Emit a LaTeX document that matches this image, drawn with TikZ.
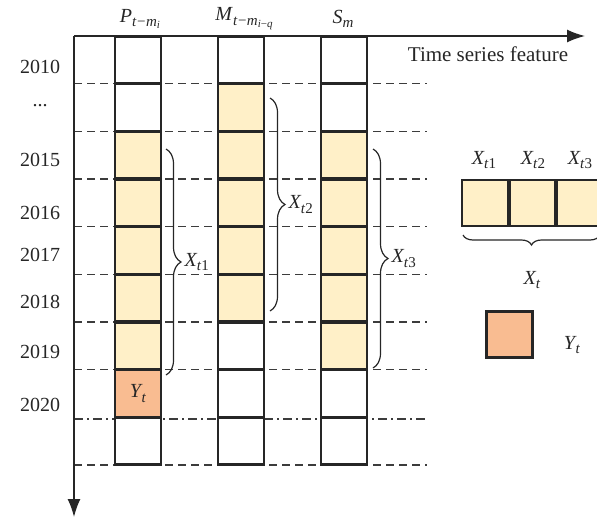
\documentclass[tikz,border=0pt]{standalone}
\usepackage{fontspec}
\setmainfont{Liberation Serif}
\usetikzlibrary{decorations.pathreplacing,arrows.meta}
\definecolor{yel}{HTML}{FFF0C8}
\definecolor{ora}{HTML}{F9BC91}
\definecolor{ln}{HTML}{262626}
\newcommand\subs[1]{\raisebox{-0.45ex}{\fontsize{15}{15}\selectfont #1}}
\newcommand\subss[1]{\raisebox{-0.4ex}{\fontsize{11}{11}\selectfont #1}}
\newcommand\vx[1]{\textit{X}\kern-0.5pt\subs{\textit{t}#1}}
\begin{document}
\begin{tikzpicture}[x=1pt,y=-1pt,
  every node/.style={font=\fontsize{20}{23}\selectfont, text=ln},
  cell/.style={draw=ln, line width=2.4pt, minimum width=46.5pt, minimum height=46.8pt, inner sep=0pt, fill=white},
  grid/.style={draw=ln!90, line width=1.5pt, dash pattern=on 8pt off 5pt},
  gridd/.style={draw=ln!90, line width=1.5pt, dash pattern=on 9pt off 4pt on 2pt off 4pt},
  br/.style={draw=ln, line width=1.2pt, decorate, decoration={brace, amplitude=15pt}},
  axis/.style={draw=ln, line width=1.5pt, -{Latex[length=18pt,width=13pt]}},
  lab/.style={inner sep=1pt}]
\useasboundingbox (0,0) rectangle (597,517);
% grid lines
\foreach \k in {1,...,7,9}{
  \coordinate (gl\k) at (74,{36+47.667*\k});
  \coordinate (gr\k) at (427,{36+47.667*\k});
  \draw[grid] (gl\k) -- (gr\k);
}
\coordinate (gl8) at (74,{36+47.667*8+1.5});
\coordinate (gr8) at (427,{36+47.667*8+1.5});
\draw[gridd] (gl8) -- (gr8);
% axes
\coordinate (o) at (74,36);
\coordinate (xe) at (585,36);
\coordinate (ye) at (74,517);
\draw[axis] (o) -- (xe);
\draw[axis] (o) -- (ye);
% columns
\foreach \c/\x in {p/138,m/241,s/344}{
  \foreach \r in {1,...,9}{
    \node[cell] (\c\r) at (\x,{36+47.667*(\r-0.5)}) {};
  }
}
\foreach \r in {3,...,7}{\node[cell,fill=yel] (p\r) at (138,{36+47.667*(\r-0.5)}) {};}
\node[cell,fill=ora] (p8) at (138,{36+47.667*7.5}) {\textit{Y}\kern-1pt\subs{\textit{t}}};
\foreach \r in {2,...,6}{\node[cell,fill=yel] (m\r) at (241,{36+47.667*(\r-0.5)}) {};}
\foreach \r in {3,...,7}{\node[cell,fill=yel] (s\r) at (344,{36+47.667*(\r-0.5)}) {};}
% headers
\node[lab] (hp) at (140,19) {\textit{P}\subs{\textit{t}\kern0.5pt−\kern0.5pt\textit{m}\subss{\textit{i}}}};
\node[lab] (hm) at (244,19) {\textit{M}\subs{\textit{t}\kern0.5pt−\kern0.5pt\textit{m}\subss{\textit{i}−\textit{q}}}};
\node[lab] (hs) at (343,19) {\textit{S}\subs{\textit{m}}};
\node[lab,font=\fontsize{21}{24}\selectfont] (tsf) at (488,54) {Time series feature};
% years
\foreach \t/\y in {2010/67,{...}/106,2015/160,2016/213,2017/255,2018/302,2019/352,2020/405}{
  \node[lab] at (40,\y) {\t};
}
% braces
\coordinate (b1a) at (166,149);
\coordinate (b1b) at (166,375);
\draw[br] (b1a) -- (b1b) node[midway, right=17pt, lab] (x1) {\vx{1}};
\coordinate (b2a) at (270,98);
\coordinate (b2b) at (270,311);
\draw[br] (b2a) -- (b2b) node[midway, right=17pt, lab] (x2) {\vx{2}};
\coordinate (b3a) at (373,149);
\coordinate (b3b) at (373,368);
\draw[br] (b3a) -- (b3b) node[midway, right=17pt, lab] (x3) {\vx{3}};
% right side boxes
\node[cell,fill=yel,minimum width=45.5pt,minimum height=46.5pt] (f1) at (485,203) {};
\node[cell,fill=yel,minimum width=45.5pt,minimum height=46.5pt] (f2) at (532.5,203) {};
\node[cell,fill=yel,minimum width=45.5pt,minimum height=46.5pt] (f3) at (580,203) {};
\node[lab] (lf1) at (484,160) {\vx{1}};
\node[lab] (lf2) at (533,160) {\vx{2}};
\node[lab] (lf3) at (580,160) {\vx{3}};
\coordinate (bba) at (600,235);
\coordinate (bbb) at (463,235);
\draw[br, decoration={brace, amplitude=10pt}] (bba) -- (bbb);
\node[lab] (xt) at (532,280) {\textit{X}\kern-0.5pt\subs{\textit{t}}};
\node[cell,fill=ora,minimum width=46pt,minimum height=46pt] (yb) at (509.5,334.5) {};
\node[lab] (yt) at (572,345) {\textit{Y}\kern-1pt\subs{\textit{t}}};
\end{tikzpicture}
\end{document}
